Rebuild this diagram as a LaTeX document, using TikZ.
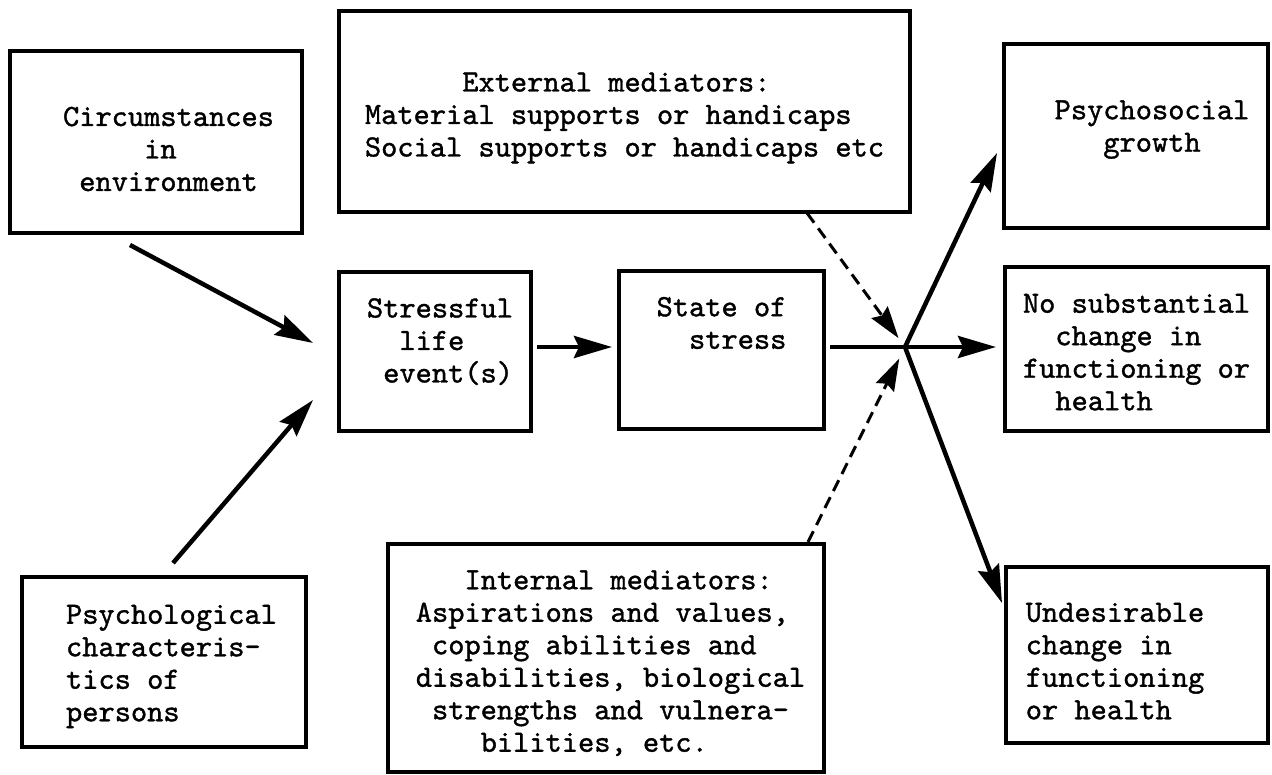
\documentclass[tikz,border=0pt]{standalone}
\usepackage{fontspec}
\newfontfamily\tw{lmmono10-regular.otf}[FakeBold=1.2]
\usetikzlibrary{arrows.meta,calc}
% #1 left pad, #2 right pad, #3 top pad, #4 bottom pad, #5 lines
\newcommand\boxtext[5]{\begin{tabular}{@{\hspace*{#1}}l@{\hspace*{#2}}}\rule{0pt}{\dimexpr\ht\strutbox+#3\relax}#5\\[#4]\end{tabular}}
\newcommand\ind[1]{\hspace*{\dimexpr #1\fontcharwd\font`\x\relax}}
\begin{document}
\begin{tikzpicture}[x=1pt,y=-1pt,
  box/.style={draw, line width=4pt, inner sep=0pt, font=\tw\fontsize{30.9}{32.5}\selectfont},
  arr/.style={line width=4.5pt, -{Stealth[length=38pt,width=22pt,inset=5pt]}},
  plain/.style={line width=4.5pt},
  darr/.style={line width=3pt, dash pattern=on 12pt off 7pt, -{Stealth[length=32pt,width=20pt,inset=4pt]}}]
\useasboundingbox (0,0) rectangle (1272,775);
\node[box, minimum width=292pt, minimum height=182pt] (circ) at (156,142)
  {\boxtext{25pt}{0pt}{20pt}{0pt}{Circumstances\\\ind{5}in\\\ind{1}environment}};
\node[box, minimum width=571pt, minimum height=201pt] (ext) at (624.5,111.5)
  {\boxtext{0pt}{0pt}{12pt}{0pt}{\ind{6}External mediators:\\Material supports or handicaps\\Social supports or handicaps etc}};
\node[box, minimum width=264pt, minimum height=184pt] (growth) at (1136,136)
  {\boxtext{32pt}{0pt}{0pt}{14pt}{Psychosocial\\\ind{3}growth}};
\node[box, minimum width=192pt, minimum height=159pt] (stress) at (435,351.5)
  {\boxtext{10pt}{0pt}{0pt}{16pt}{Stressful\\\ind{2}life\\\ind{1}event(s)}};
\node[box, minimum width=205pt, minimum height=158pt] (state) at (721.5,350)
  {\boxtext{0pt}{0pt}{0pt}{48pt}{State of\\\ind{2}stress}};
\node[box, minimum width=263pt, minimum height=164pt] (nochange) at (1136.5,349)
  {\boxtext{0pt}{0pt}{12pt}{0pt}{No substantial\\\ind{2}change in\\functioning or\\\ind{2}health}};
\node[box, minimum width=284pt, minimum height=170pt] (psych) at (164,662)
  {\boxtext{15pt}{0pt}{8pt}{0pt}{Psychological\\characteris-\\tics of\\persons}};
\node[box, minimum width=436pt, minimum height=228pt] (internal) at (606,658)
  {\boxtext{9pt}{0pt}{12pt}{0pt}{\ind{3}Internal mediators:\\Aspirations and values,\\\ind{1}coping abilities and\\disabilities, biological\\\ind{1}strengths and vulnera-\\\ind{4}bilities, etc.}};
\node[box, minimum width=262pt, minimum height=176pt] (undes) at (1137,655)
  {\boxtext{0pt}{44pt}{18pt}{0pt}{Undesirable\\change in\\functioning\\or health}};
\coordinate (j) at (905,347);
\coordinate (c1) at (130,245);
\coordinate (c2) at (313,343);
\coordinate (p1) at (173,563);
\coordinate (p2) at (313,400);
\coordinate (e1) at (807,213);
\coordinate (i1) at (808,542);
\coordinate (gtip) at (997,153);
\coordinate (utip) at (1002,603);
\draw[arr] (c1) -- (c2);
\draw[arr] (p1) -- (p2);
\draw[arr, shorten <=4pt, shorten >=5pt] (stress.east |- j) -- (state.west |- j);
\draw[plain, shorten <=4pt] (state.east |- j) -- (j);
\draw[arr, shorten >=7pt] (j) -- (nochange.west |- j);
\draw[arr] (j) -- (gtip);
\draw[arr] (j) -- (utip);
\draw[darr, shorten >=11pt] (e1) -- (j);
\draw[darr, shorten >=13pt] (i1) -- (j);
\end{tikzpicture}
\end{document}
